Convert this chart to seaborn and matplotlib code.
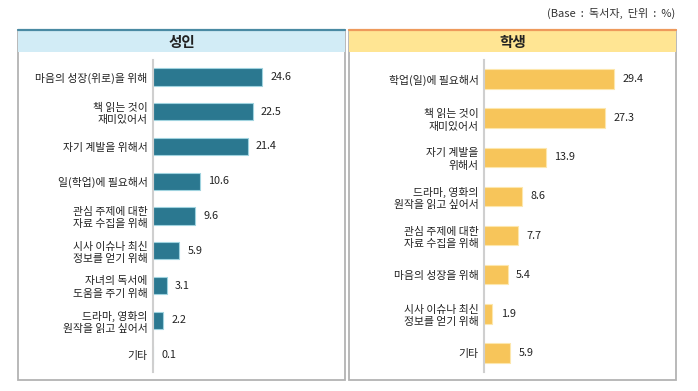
import pandas as pd
import matplotlib.pyplot as plt
import seaborn as sns
from matplotlib.patches import Rectangle

# Data
adult_labels = ["마음의 성장(위로)을 위해", "책 읽는 것이\n재미있어서", "자기 계발을 위해서",
                "일(학업)에 필요해서", "관심 주제에 대한\n자료 수집을 위해", "시사 이슈나 최신\n정보를 얻기 위해",
                "자녀의 독서에\n도움을 주기 위해", "드라마, 영화의\n원작을 읽고 싶어서", "기타"]
adult_values = [24.6, 22.5, 21.4, 10.6, 9.6, 5.9, 3.1, 2.2, 0.1]

student_labels = ["학업(일)에 필요해서", "책 읽는 것이\n재미있어서", "자기 계발을\n위해서",
                  "드라마, 영화의\n원작을 읽고 싶어서", "관심 주제에 대한\n자료 수집을 위해", "마음의 성장을 위해",
                  "시사 이슈나 최신\n정보를 얻기 위해", "기타"]
student_values = [29.4, 27.3, 13.9, 8.6, 7.7, 5.4, 1.9, 5.9]

panel_titles = ["성인", "학생"]
note = "(Base  :  독서자,  단위  :  %)"

sns.set_style("white")
plt.rcParams["font.family"] = ["Noto Sans CJK KR", "DejaVu Sans"]

W, H = 698, 391
fig = plt.figure(figsize=(W / 100, H / 100), dpi=100)


def px_box(x0, y0, x1, y1):
    # pixel box (top-left origin) -> figure fraction rect
    return [x0 / W, 1 - y1 / H, (x1 - x0) / W, (y1 - y0) / H]


def draw_panel(labels, values, title, box, axis_x, bar_color, edge_color, head_color, line_color):
    x0, x1 = box
    # panel frame
    r = px_box(x0, 30, x1, 380)
    fig.add_artist(Rectangle((r[0], r[1]), r[2], r[3], transform=fig.transFigure,
                             fill=False, ec="#b3b3b3", lw=1.3))
    # header band
    h = px_box(x0, 30, x1, 52)
    fig.add_artist(Rectangle((h[0], h[1]), h[2], h[3], transform=fig.transFigure,
                             fc=head_color, ec="none"))
    fig.add_artist(plt.Line2D([x0 / W, x1 / W], [1 - 30 / H, 1 - 30 / H], transform=fig.transFigure,
                              color=line_color, lw=1.6))
    fig.text((x0 + x1) / 2 / W, 1 - 41.5 / H, title, ha="center", va="center",
             fontsize=10.5, fontweight="bold", color="#222222")

    ax = fig.add_axes(px_box(axis_x, 59.6, axis_x + 177, 372.4))
    df = pd.DataFrame({"label": labels, "value": values})
    sns.barplot(data=df, x="value", y="label", ax=ax, color=bar_color, width=0.5,
                edgecolor=edge_color, linewidth=0.8, saturation=1)
    ax.set_xlim(0, 40)
    ax.set_xlabel("")
    ax.set_ylabel("")
    ax.set_xticks([])
    for s in ["top", "right", "bottom"]:
        ax.spines[s].set_visible(False)
    ax.spines["left"].set_color("#cfcfcf")
    ax.spines["left"].set_linewidth(1.5)
    ax.tick_params(axis="y", length=0, pad=4, labelsize=7.8, colors="#222222")
    for t in ax.get_yticklabels():
        t.set_linespacing(1.3)
    ax.bar_label(ax.containers[0], fmt="%.1f", padding=6, fontsize=7.8, color="#222222")
    ax.patch.set_alpha(0)
    return ax


draw_panel(adult_labels, adult_values, panel_titles[0], (18, 345), 153,
           "#2b7890", "#9fd3df", "#d2ecf6", "#4a8aa3")
draw_panel(student_labels, student_values, panel_titles[1], (349, 676), 484,
           "#f7c55a", "#fde7ad", "#ffe593", "#ee9a5c")

fig.text(675 / W, 1 - 13 / H, note, ha="right", va="center", fontsize=8, color="#333333")

fig.savefig("out.png", dpi=100)
